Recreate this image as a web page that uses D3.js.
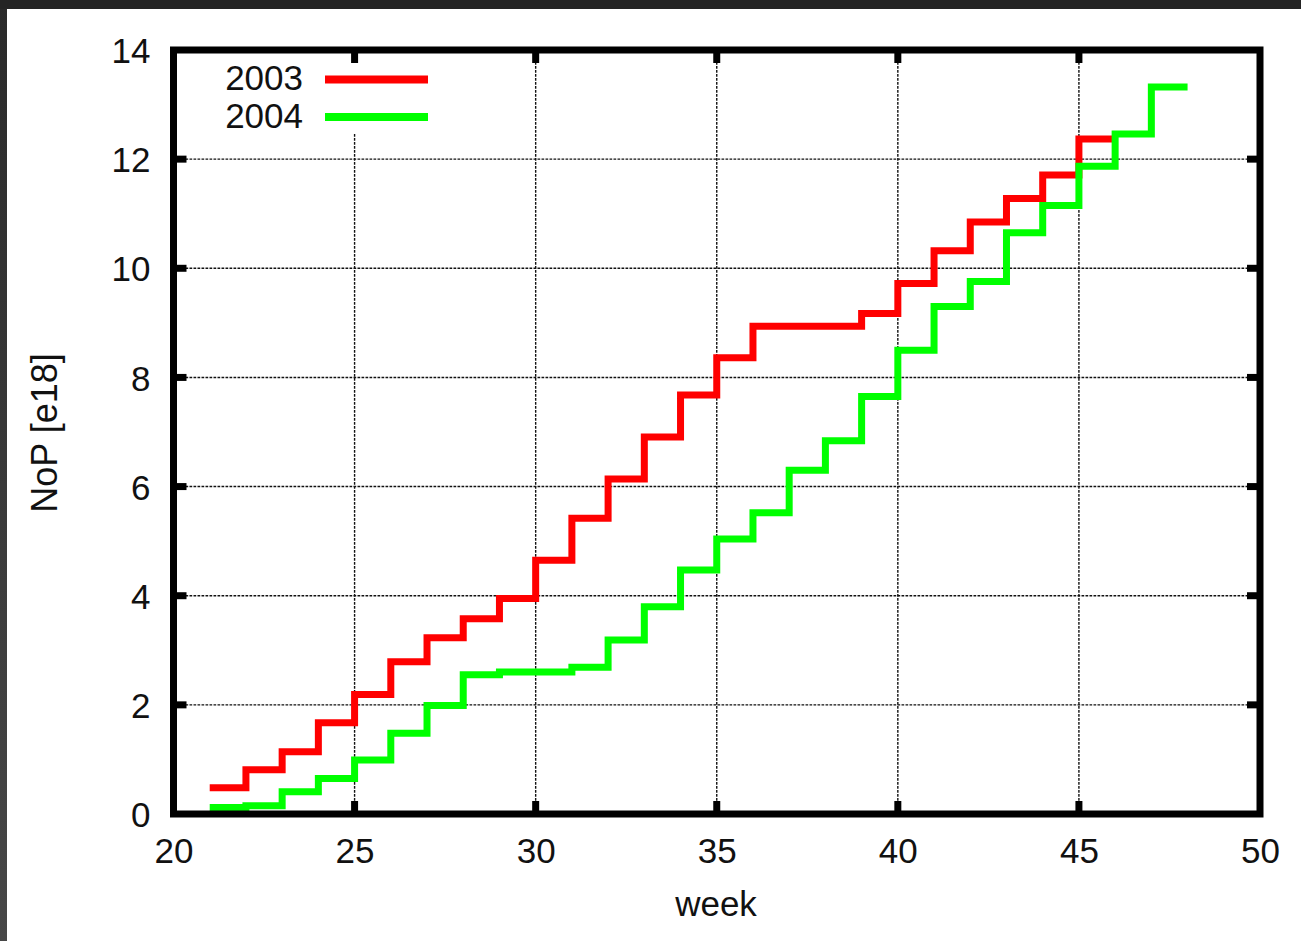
<!DOCTYPE html>
<html>
<head>
<meta charset="utf-8">
<script src="https://cdn.jsdelivr.net/npm/d3@7"></script>
<style>
    html, body { margin: 0; padding: 0; background: #ffffff; }
    svg { display: block; font-family: "Liberation Sans", Arial, sans-serif; }
</style>
</head>
<body>
<div class="content"></div>
<script>
(function (window) {
    'use strict';

    // weeks (start of each weekly step; last entry closes the final step)
    var weeks2003 = [21, 22, 23, 24, 25, 26, 27, 28, 29, 30, 31, 32, 33, 34, 35, 36, 37, 38, 39, 40, 41, 42, 43, 44, 45, 46];
    var nop2003 = [0.48, 0.81, 1.14, 1.67, 2.19, 2.79, 3.23, 3.58, 3.95, 4.65, 5.42, 6.14, 6.91, 7.68, 8.36, 8.94, 8.94, 8.94, 9.17, 9.72, 10.32, 10.85, 11.28, 11.71, 12.37, 12.37];
    var weeks2004 = [21, 22, 23, 24, 25, 26, 27, 28, 29, 30, 31, 32, 33, 34, 35, 36, 37, 38, 39, 40, 41, 42, 43, 44, 45, 46, 47, 48];
    var nop2004 = [0.12, 0.15, 0.41, 0.65, 0.99, 1.48, 1.99, 2.55, 2.6, 2.6, 2.69, 3.19, 3.8, 4.47, 5.04, 5.52, 6.3, 6.84, 7.65, 8.5, 9.3, 9.76, 10.65, 11.15, 11.87, 12.46, 13.32, 13.32];
    var seriesNames = ["2003", "2004"];
    var seriesColors = ["#ff0000", "#00ff00"];
    var xTicks = [20, 25, 30, 35, 40, 45, 50];
    var yTicks = [0, 2, 4, 6, 8, 10, 12, 14];

    var width = 1301, height = 941,
        left = 173.5, right = 1260, top = 50, bottom = 814,
        fontSize = 35, tickLen = 13;

    var svg = d3.select(".content").append("svg")
        .attr("width", width)
        .attr("height", height);

    // dark window frame (top and left edges of the screenshot)
    var grad = svg.append("defs").append("linearGradient")
        .attr("id", "edge").attr("x1", 0).attr("y1", 0).attr("x2", 0).attr("y2", 1);
    grad.append("stop").attr("offset", "0").attr("stop-color", "#2a2a2a");
    grad.append("stop").attr("offset", "1").attr("stop-color", "#474747");
    svg.append("rect").attr("x", 0).attr("y", 0).attr("width", width).attr("height", height).attr("fill", "#ffffff");
    svg.append("rect").attr("x", 0).attr("y", 0).attr("width", 7).attr("height", height).attr("fill", "url(#edge)");
    svg.append("rect").attr("x", 0).attr("y", 0).attr("width", width).attr("height", 9).attr("fill", "#242424");

    var x = d3.scaleLinear().domain([20, 50]).range([left, right]);
    var y = d3.scaleLinear().domain([0, 14]).range([bottom, top]);

    // grid
    var grid = svg.append("g").attr("class", "grid")
        .attr("stroke", "#111").attr("stroke-width", 1.4).attr("stroke-dasharray", "2.7,1.3");
    grid.selectAll("line.gx").data(xTicks.slice(1, -1)).enter().append("line")
        .attr("class", "gx")
        .attr("x1", function (d) { return x(d); })
        .attr("x2", function (d) { return x(d); })
        .attr("y1", top).attr("y2", bottom);
    grid.selectAll("line.gy").data(yTicks.slice(1, -1)).enter().append("line")
        .attr("class", "gy")
        .attr("y1", function (d) { return y(d); })
        .attr("y2", function (d) { return y(d); })
        .attr("x1", left).attr("x2", right);

    // legend box masks the grid behind it
    svg.append("rect").attr("x", 214).attr("y", 54).attr("width", 222).attr("height", 79).attr("fill", "#ffffff");

    // tick labels via d3 axes, then styled
    var xAxis = svg.append("g")
        .attr("transform", "translate(0," + bottom + ")")
        .call(d3.axisBottom(x).tickValues(xTicks).tickSize(0).tickPadding(37).tickFormat(d3.format("d")));
    var yAxis = svg.append("g")
        .attr("transform", "translate(" + left + ",0)")
        .call(d3.axisLeft(y).tickValues(yTicks).tickSize(0).tickPadding(23).tickFormat(d3.format("d")));
    [xAxis, yAxis].forEach(function (a) {
        a.select(".domain").remove();
        a.selectAll("text").attr("font-size", fontSize).attr("fill", "#111")
            .attr("font-family", "'Liberation Sans', Arial, sans-serif");
    });
    xAxis.selectAll("text").attr("dy", null).attr("y", 49);
    yAxis.selectAll("text").attr("dy", "0.36em");

    // series
    var line = d3.line()
        .x(function (d) { return x(d[0]); })
        .y(function (d) { return y(d[1]); })
        .curve(d3.curveStepAfter);
    var series = [d3.zip(weeks2003, nop2003), d3.zip(weeks2004, nop2004)];
    svg.selectAll("path.series").data(series).enter().append("path")
        .attr("class", "series")
        .attr("d", line)
        .attr("fill", "none")
        .attr("stroke", function (d, i) { return seriesColors[i]; })
        .attr("stroke-width", 7)
        .attr("stroke-linejoin", "miter")
        .attr("stroke-linecap", "butt");

    // border and inward ticks on all four sides
    var frame = svg.append("g").attr("stroke", "#000").attr("stroke-width", 7);
    frame.append("rect")
        .attr("x", left).attr("y", top)
        .attr("width", right - left).attr("height", bottom - top)
        .attr("fill", "none");
    xTicks.slice(1, -1).forEach(function (d) {
        frame.append("line").attr("x1", x(d)).attr("x2", x(d)).attr("y1", bottom).attr("y2", bottom - tickLen);
        frame.append("line").attr("x1", x(d)).attr("x2", x(d)).attr("y1", top).attr("y2", top + tickLen);
    });
    yTicks.slice(1, -1).forEach(function (d) {
        frame.append("line").attr("y1", y(d)).attr("y2", y(d)).attr("x1", left).attr("x2", left + tickLen);
        frame.append("line").attr("y1", y(d)).attr("y2", y(d)).attr("x1", right).attr("x2", right - tickLen);
    });

    // legend
    var legend = svg.selectAll("g.legend").data(seriesNames).enter().append("g")
        .attr("class", "legend")
        .attr("transform", function (d, i) { return "translate(0," + (79.5 + i * 37.5) + ")"; });
    legend.append("text")
        .attr("x", 303).attr("y", 10.5)
        .attr("text-anchor", "end")
        .attr("font-size", fontSize).attr("fill", "#111")
        .text(function (d) { return d; });
    legend.append("line")
        .attr("x1", 325).attr("x2", 428).attr("y1", 0).attr("y2", 0)
        .attr("stroke", function (d, i) { return seriesColors[i]; })
        .attr("stroke-width", 8);

    // axis titles
    svg.append("text")
        .attr("x", 716).attr("y", 916)
        .attr("text-anchor", "middle")
        .attr("font-size", fontSize).attr("fill", "#111")
        .text("week");
    svg.append("text")
        .attr("transform", "translate(57,433) rotate(-90)")
        .attr("text-anchor", "middle")
        .attr("font-size", fontSize + 1).attr("fill", "#111")
        .text("NoP [e18]");
}(window));
</script>
</body>
</html>
